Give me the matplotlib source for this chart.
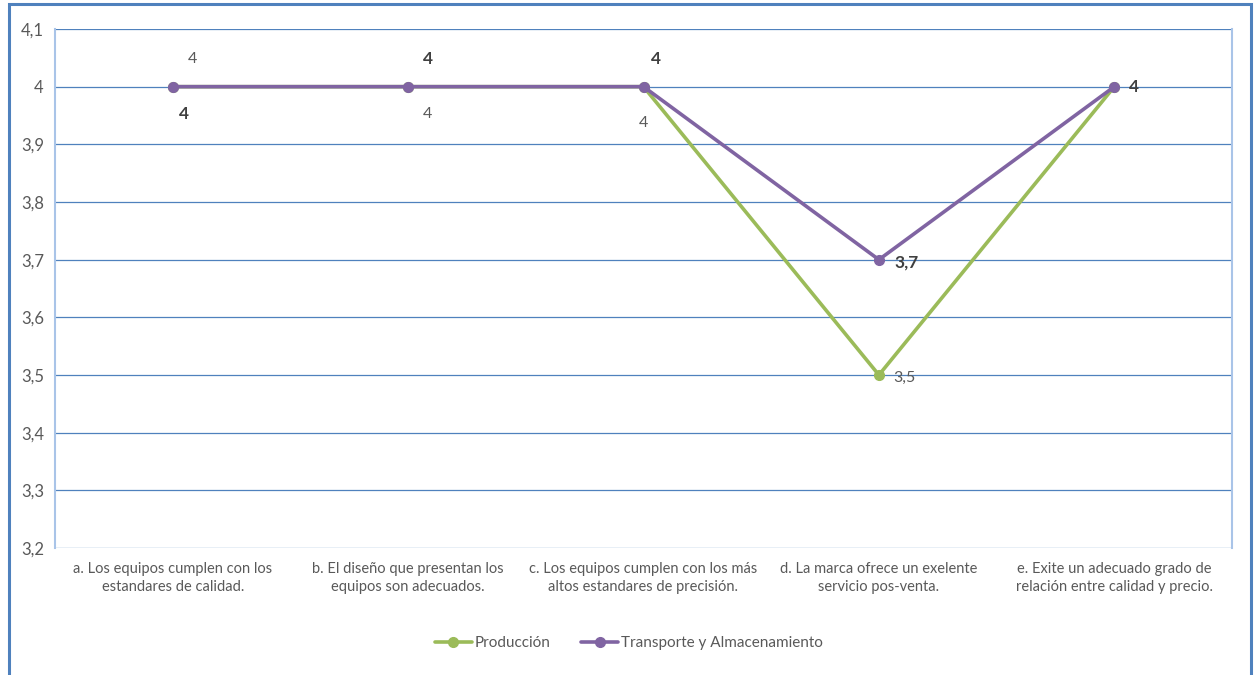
import matplotlib
matplotlib.use("Agg")
import matplotlib.pyplot as plt
from matplotlib.patches import Rectangle

categories = [
    "a. Los equipos cumplen con los\nestandares de calidad.",
    "b. El diseño que presentan los\nequipos son adecuados.",
    "c. Los equipos cumplen con los más\naltos estandares de precisión.",
    "d. La marca ofrece un exelente\nservicio pos-venta.",
    "e. Exite un adecuado grado de\nrelación entre calidad y precio.",
]
produccion = [4, 4, 4, 3.5, 4]
transporte = [4, 4, 4, 3.7, 4]
y_ticks = [3.2, 3.3, 3.4, 3.5, 3.6, 3.7, 3.8, 3.9, 4.0, 4.1]

GREEN = "#9BBB59"
PURPLE = "#8064A2"
GRID = "#4F81BD"
TEXT = "#595959"
plt.rcParams["font.family"] = ["Lato", "DejaVu Sans"]

def fmt(v):
    s = f"{v:g}"
    return s.replace(".", ",")

fig = plt.figure(figsize=(12.58, 6.75), dpi=100)
W, H = 1258, 675
ax = fig.add_axes([55 / W, 1 - 548 / H, (1232 - 55) / W, (548 - 29) / H])

# outer chart border
fig.patches.append(Rectangle((9 / W, -0.05), (1251 - 9) / W, (1 - 4 / H) + 0.05,
                             transform=fig.transFigure, fill=False,
                             edgecolor="#4F81BD", linewidth=2.2))

x = list(range(len(categories)))
ax.plot(x, produccion, color=GREEN, linewidth=2.6, marker="o", markersize=7,
        zorder=3, label="Producción", solid_capstyle="round")
ax.plot(x, transporte, color=PURPLE, linewidth=2.6, marker="o", markersize=7,
        zorder=4, label="Transporte y Almacenamiento", solid_capstyle="round")

ax.set_xlim(-0.5, len(categories) - 0.5)
ax.set_ylim(3.2, 4.1)
ax.set_yticks(y_ticks)
ax.set_yticklabels([fmt(round(t, 1)) for t in y_ticks], color=TEXT, fontsize=12)
ax.set_xticks(x)
ax.set_xticklabels(categories, color=TEXT, fontsize=10.5, linespacing=1.35)
ax.tick_params(axis="both", length=0, pad=8)
ax.tick_params(axis="x", pad=10)
ax.grid(axis="y", color=GRID, linewidth=0.9)
ax.set_axisbelow(True)
for side in ["top", "bottom"]:
    ax.spines[side].set_visible(False)
for side in ["left", "right"]:
    ax.spines[side].set_color("#A9C4E8")
    ax.spines[side].set_linewidth(1.5)

# data labels (offsets in points)
prod_offsets = [(14, 20), (14, -20), (0, -26), (18, -2), None]
trans_offsets = [(8, -20), (14, 20), (9, 20), (20, -2), (14, 0)]
for i, v in enumerate(produccion):
    off = prod_offsets[i]
    if off is None:
        continue
    ax.annotate(fmt(v), (i, v), xytext=off, textcoords="offset points",
                ha="center", va="center", color=TEXT, fontsize=11.5)
for i, v in enumerate(transporte):
    off = trans_offsets[i]
    ax.annotate(fmt(v), (i, v), xytext=off, textcoords="offset points",
                ha="center", va="center", color="#404040", fontsize=12.5,
                fontweight="bold")

leg = fig.legend(loc="center", bbox_to_anchor=(0.5, 1 - 643 / H), ncol=2,
                 frameon=False, fontsize=11, labelcolor=TEXT,
                 handlelength=2.4, columnspacing=2.0, handletextpad=0.2)

fig.savefig("out.png", dpi=100)
